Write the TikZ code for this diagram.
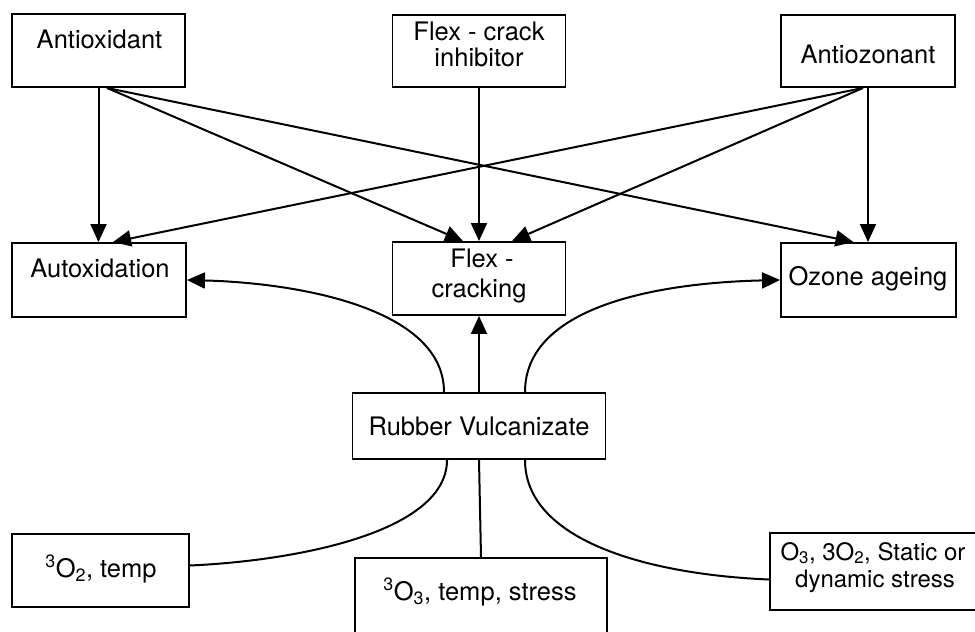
\documentclass[tikz,border=0pt]{standalone}
\usepackage{fontspec}
\setmainfont{TeX Gyre Heros}
\usetikzlibrary{arrows.meta}
\begin{document}
\begin{tikzpicture}[x=1pt,y=-1pt,
  box/.style={draw, line width=1.9pt, rectangle, inner sep=0pt},
  lbl/.style={anchor=base, inner sep=0pt, font=\fontsize{25.5}{30}\selectfont},
  conn/.style={line width=2pt},
  arr/.style={conn, -{Triangle[length=18pt,width=16pt]}}]
\useasboundingbox (0,0) rectangle (975,632);
\clip (0,0) rectangle (975,632);
\fill[white] (0,0) rectangle (975,632);
% boxes
\node[box, minimum width=173pt, minimum height=73pt] (aox) at (98.5,50.5) {};
\node[box, minimum width=173pt, minimum height=72pt] (inh) at (479,51) {};
\node[box, minimum width=174pt, minimum height=72pt] (antioz) at (868,51) {};
\node[box, minimum width=174pt, minimum height=74pt] (autox) at (99,280) {};
\node[box, minimum width=173pt, minimum height=73pt] (flexc) at (479,278.5) {};
\node[box, minimum width=175pt, minimum height=74pt] (ozone) at (868.5,280) {};
\node[box, minimum width=253pt, minimum height=66pt] (rv) at (479,426) {};
\node[box, minimum width=177pt, minimum height=73pt] (o2) at (100.5,570.5) {};
\node[box, minimum width=252pt, minimum height=92pt] (o3) at (481,604) {};
\node[box, minimum width=220pt, minimum height=77pt] (ostat) at (880,571.5) {};
% texts
\node[lbl] (aoxt) at (99.5,48) {Antioxidant};
\node[lbl] (inht1) at (479,40) {Flex - crack};
\node[lbl] (inht2) at (479,66) {inhibitor};
\node[lbl] (antiozt) at (868,63) {Antiozonant};
\node[lbl] (autoxt) at (100,277) {Autoxidation};
\node[lbl] (flexct1) at (482,267) {Flex -};
\node[lbl] (flexct2) at (479,297) {cracking};
\node[lbl] (ozonet) at (868,285) {Ozone ageing};
\node[lbl] (rvt) at (479,435) {Rubber Vulcanizate};
\node[lbl] (o2t) at (101,577) {\textsuperscript{3}O\textsubscript{2}, temp};
\node[lbl] (o3t) at (480,600) {\textsuperscript{3}O\textsubscript{3}, temp, stress};
\node[lbl, font=\fontsize{24}{28}\selectfont] (ostatt1) at (873,560) {O\textsubscript{3}, 3O\textsubscript{2}, Static or};
\node[lbl, font=\fontsize{24}{28}\selectfont] (ostatt2) at (875,587) {dynamic stress};
% top arrows
\draw[arr] (aox.south) -- (aox.south |- autox.north);
\draw[arr] ([xshift=8.5pt]aox.south) -- ([xshift=-16pt]flexc.north);
\draw[arr] ([xshift=8.5pt]aox.south) -- ([xshift=-15pt]ozone.north);
\draw[arr] (inh.south) -- (flexc.north);
\draw[arr] ([xshift=-5pt]antioz.south) -- ([xshift=14pt]autox.north);
\draw[arr] ([xshift=-5pt]antioz.south) -- ([xshift=33pt]flexc.north);
\draw[arr] (antioz.south) -- (antioz.south |- ozone.north);
% rubber vulcanizate connectors
\draw[arr] (rv.north) -- (flexc.south);
\draw[arr] ([xshift=-35pt]rv.north) .. controls +(0,-83) and +(114,3) .. (autox.east);
\draw[arr] ([xshift=46pt]rv.north) .. controls +(0,-83) and +(-130,3) .. (ozone.west);
\draw[conn] (rv.south) -- (o3.north);
\draw[conn] ([xshift=-32pt]rv.south) .. controls +(0,71) and +(111,-5) .. ([yshift=5pt]o2.east);
\draw[conn] ([xshift=46pt]rv.south) .. controls +(0,81) and +(-120,-5) .. ([yshift=-8pt]ostat.west);
\end{tikzpicture}
\end{document}
